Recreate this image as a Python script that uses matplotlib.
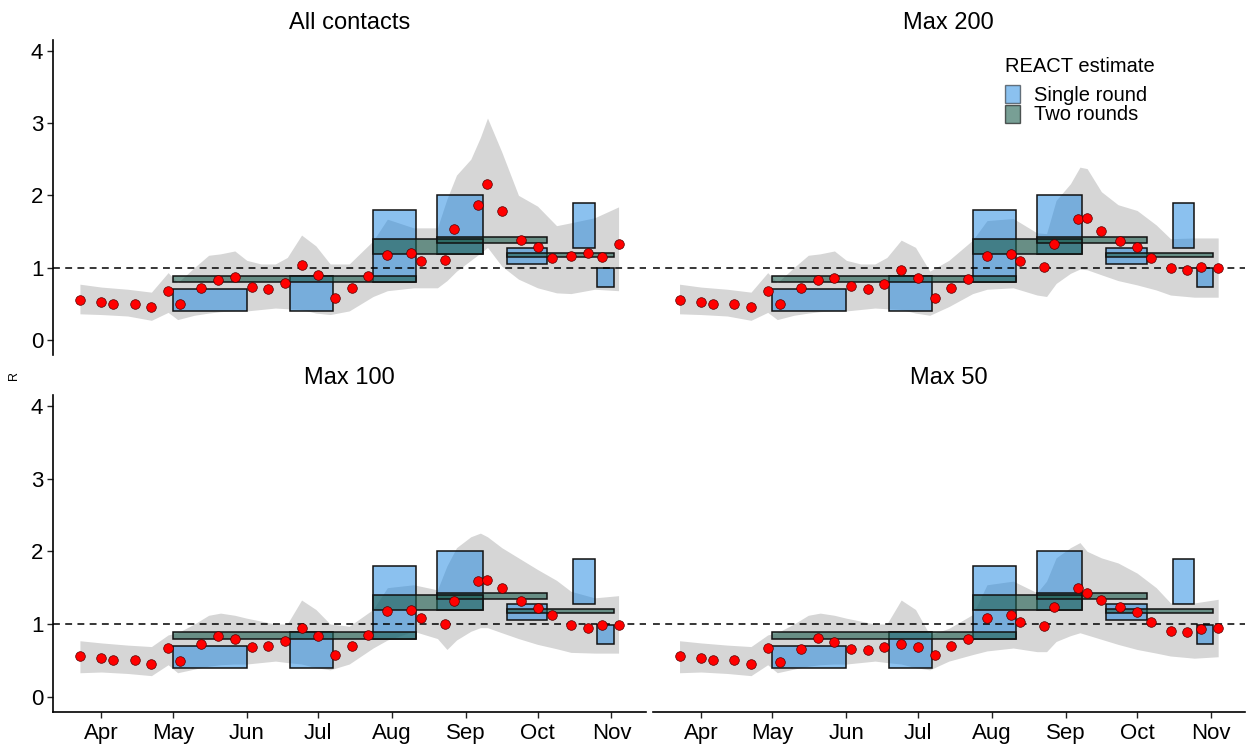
import matplotlib.pyplot as plt
import matplotlib.dates as mdates
from matplotlib.patches import Patch
import numpy as np
import pandas as pd

plt.rcParams['font.family'] = ['Liberation Sans', 'DejaVu Sans']

# weekly point estimates of R
point_dates = ['2020-03-23', '2020-04-01', '2020-04-06', '2020-04-15', '2020-04-22',
               '2020-04-29', '2020-05-04', '2020-05-13', '2020-05-20', '2020-05-27',
               '2020-06-03', '2020-06-10', '2020-06-17', '2020-06-24', '2020-07-01',
               '2020-07-08', '2020-07-15', '2020-07-22', '2020-07-30', '2020-08-09',
               '2020-08-13', '2020-08-23', '2020-08-27', '2020-09-06', '2020-09-10',
               '2020-09-16', '2020-09-24', '2020-10-01', '2020-10-07', '2020-10-15',
               '2020-10-22', '2020-10-28', '2020-11-04']
r_all = [0.55, 0.525, 0.50, 0.50, 0.455, 0.67, 0.49, 0.72, 0.835, 0.87, 0.735, 0.71, 0.78,
         1.03, 0.90, 0.58, 0.72, 0.88, 1.18, 1.20, 1.09, 1.10, 1.54, 1.86, 2.16, 1.79, 1.38,
         1.29, 1.13, 1.16, 1.20, 1.14, 1.32]
r_200 = [0.55, 0.525, 0.50, 0.50, 0.455, 0.67, 0.49, 0.72, 0.83, 0.85, 0.74, 0.71, 0.775,
         0.96, 0.85, 0.585, 0.72, 0.84, 1.16, 1.19, 1.09, 1.01, 1.32, 1.67, 1.68, 1.51, 1.37,
         1.29, 1.13, 1.00, 0.97, 1.01, 1.00]
r_100 = [0.556, 0.53, 0.505, 0.50, 0.455, 0.67, 0.49, 0.72, 0.83, 0.79, 0.68, 0.70, 0.77,
         0.945, 0.835, 0.58, 0.70, 0.845, 1.18, 1.19, 1.08, 1.00, 1.32, 1.59, 1.60, 1.49, 1.31,
         1.22, 1.12, 0.99, 0.945, 0.99, 0.99]
r_50 = [0.556, 0.53, 0.505, 0.50, 0.455, 0.67, 0.48, 0.65, 0.81, 0.75, 0.66, 0.64, 0.68,
        0.72, 0.69, 0.58, 0.70, 0.79, 1.08, 1.13, 1.03, 0.97, 1.23, 1.50, 1.43, 1.33, 1.24,
        1.17, 1.03, 0.90, 0.89, 0.93, 0.95]

# credible interval ribbon
rib_dates = ['2020-03-23', '2020-04-01', '2020-04-12', '2020-04-22', '2020-04-29',
             '2020-05-03', '2020-05-10', '2020-05-16', '2020-05-21', '2020-05-27',
             '2020-06-01', '2020-06-07', '2020-06-13', '2020-06-18', '2020-06-24',
             '2020-06-30', '2020-07-06', '2020-07-14', '2020-07-24', '2020-07-30',
             '2020-08-10', '2020-08-20', '2020-08-24', '2020-08-28', '2020-09-03',
             '2020-09-07', '2020-09-10', '2020-09-16', '2020-09-23', '2020-10-01',
             '2020-10-09', '2020-10-15', '2020-10-25', '2020-11-04']
hi_all = [0.77, 0.73, 0.70, 0.66, 0.93, 0.79, 1.00, 1.17, 1.19, 1.23, 1.10, 1.05, 1.05, 1.14,
          1.45, 1.30, 1.05, 1.05, 1.37, 1.67, 1.55, 1.55, 1.95, 2.28, 2.50, 2.80, 3.07, 2.60,
          2.00, 1.85, 1.58, 1.62, 1.69, 1.84]
lo_all = [0.36, 0.35, 0.33, 0.27, 0.38, 0.28, 0.34, 0.37, 0.39, 0.40, 0.40, 0.42, 0.44, 0.43,
          0.42, 0.37, 0.35, 0.40, 0.60, 0.68, 0.72, 0.72, 0.82, 0.95, 1.10, 1.20, 1.28, 1.02,
          0.84, 0.72, 0.65, 0.64, 0.70, 0.68]
hi_200 = [0.77, 0.73, 0.70, 0.66, 0.93, 0.79, 1.00, 1.17, 1.19, 1.23, 1.10, 1.05, 1.05, 1.14,
          1.38, 1.28, 0.95, 1.10, 1.38, 1.65, 1.68, 1.48, 1.47, 1.93, 2.16, 2.39, 2.37, 2.05,
          1.87, 1.79, 1.59, 1.40, 1.41, 1.41]
lo_200 = [0.36, 0.35, 0.33, 0.27, 0.38, 0.28, 0.34, 0.37, 0.39, 0.40, 0.40, 0.42, 0.44, 0.43,
          0.42, 0.37, 0.34, 0.46, 0.64, 0.70, 0.72, 0.62, 0.60, 0.78, 0.92, 0.98, 0.97, 0.90,
          0.82, 0.76, 0.69, 0.62, 0.59, 0.59]
hi_100 = [0.77, 0.74, 0.71, 0.69, 0.85, 0.88, 1.00, 1.12, 1.15, 1.12, 1.08, 1.04, 1.00, 1.00,
          1.33, 1.20, 1.00, 0.97, 1.20, 1.50, 1.54, 1.47, 1.80, 2.05, 2.20, 2.25, 2.20, 2.05,
          1.91, 1.75, 1.60, 1.45, 1.36, 1.39]
lo_100 = [0.33, 0.34, 0.32, 0.29, 0.44, 0.33, 0.38, 0.42, 0.44, 0.45, 0.45, 0.47, 0.49, 0.47,
          0.45, 0.40, 0.37, 0.45, 0.67, 0.78, 0.90, 0.80, 0.65, 0.78, 0.90, 0.95, 0.95, 0.88,
          0.80, 0.72, 0.66, 0.61, 0.60, 0.60]
hi_50 = [0.77, 0.74, 0.71, 0.69, 0.85, 0.88, 1.00, 1.12, 1.15, 1.12, 1.08, 1.04, 1.00, 1.00,
         1.33, 1.20, 0.85, 0.94, 1.13, 1.54, 1.59, 1.43, 1.59, 1.91, 2.05, 2.12, 2.00, 1.91,
         1.84, 1.70, 1.50, 1.29, 1.29, 1.34]
lo_50 = [0.33, 0.34, 0.32, 0.29, 0.44, 0.33, 0.38, 0.42, 0.44, 0.45, 0.45, 0.47, 0.49, 0.47,
         0.45, 0.40, 0.37, 0.49, 0.58, 0.63, 0.67, 0.62, 0.62, 0.76, 0.84, 0.88, 0.85, 0.79,
         0.72, 0.65, 0.60, 0.56, 0.53, 0.55]

# REACT estimates
single_start = ['2020-05-01', '2020-06-19', '2020-07-24', '2020-08-20', '2020-09-18',
                '2020-10-16', '2020-10-26']
single_end = ['2020-06-01', '2020-07-07', '2020-08-11', '2020-09-08', '2020-10-05',
              '2020-10-25', '2020-11-02']
single_lo = [0.40, 0.40, 0.80, 1.19, 1.05, 1.27, 0.73]
single_hi = [0.70, 0.885, 1.80, 2.00, 1.27, 1.89, 0.99]
two_start = ['2020-05-01', '2020-07-24', '2020-08-20', '2020-09-18']
two_end = ['2020-08-11', '2020-09-08', '2020-10-05', '2020-11-02']
two_lo = [0.80, 1.19, 1.34, 1.15]
two_hi = [0.89, 1.40, 1.43, 1.20]

titles = ['All contacts', 'Max 200', 'Max 100', 'Max 50']
r_sets = [r_all, r_200, r_100, r_50]
lo_sets = [lo_all, lo_200, lo_100, lo_50]
hi_sets = [hi_all, hi_200, hi_100, hi_50]

single_col = '#1985e1'
two_col = '#1f5f4f'

def dnum(d):
    return mdates.date2num(pd.to_datetime(d))

fig = plt.figure(figsize=(12.47, 7.45), dpi=100)
W, H = 1247, 745
pos = [(53, 40, 355), (652.6, 40, 355), (53, 395, 712), (652.6, 395, 712)]
apr1 = dnum('2020-04-01')

for i in range(4):
    x0, ytop, ybot = pos[i]
    ax = fig.add_axes([x0 / W, 1 - ybot / H, 592.5 / W, (ybot - ytop) / H])
    ax.fill_between(dnum(rib_dates), lo_sets[i], hi_sets[i], color='#d6d6d6', lw=0, zorder=1)
    s0, s1 = dnum(single_start), dnum(single_end)
    ax.bar(s0, np.array(single_hi) - np.array(single_lo), width=s1 - s0, bottom=single_lo,
           align='edge', color=single_col, alpha=0.5, edgecolor='none', zorder=2)
    ax.bar(s0, np.array(single_hi) - np.array(single_lo), width=s1 - s0, bottom=single_lo,
           align='edge', fill=False, edgecolor='#111111', lw=1.1, zorder=2.1)
    t0, t1 = dnum(two_start), dnum(two_end)
    ax.bar(t0, np.array(two_hi) - np.array(two_lo), width=t1 - t0, bottom=two_lo,
           align='edge', color=two_col, alpha=0.6, edgecolor='none', zorder=3)
    ax.bar(t0, np.array(two_hi) - np.array(two_lo), width=t1 - t0, bottom=two_lo,
           align='edge', fill=False, edgecolor='#111111', lw=1.1, zorder=3.1)
    ax.axhline(1, color='black', lw=1.1, ls=(0, (4.5, 3.5)), zorder=4)
    ax.scatter(dnum(point_dates), r_sets[i], s=48, c='#ff0000', edgecolors='#550000',
               linewidths=0.5, zorder=5)
    ax.set_xlim(apr1 - 20.3, apr1 + 228.3)
    ax.set_ylim(-0.21, 4.15)
    ax.set_facecolor('none')
    for sp in ['top', 'right']:
        ax.spines[sp].set_visible(False)
    ax.xaxis.set_major_locator(mdates.MonthLocator())
    ax.xaxis.set_major_formatter(mdates.DateFormatter('%b'))
    ax.set_yticks([0, 1, 2, 3, 4])
    ax.tick_params(labelsize=16, length=4, width=1, colors='#222222', labelcolor='black')
    ax.tick_params(axis='x', pad=4)
    ax.tick_params(axis='y', pad=3)
    if i < 2:
        ax.spines['bottom'].set_visible(False)
        ax.tick_params(axis='x', bottom=False, labelbottom=False)
    else:
        ax.spines['bottom'].set_linewidth(1.2)
    if i % 2 == 1:
        ax.spines['left'].set_visible(False)
        ax.tick_params(axis='y', left=False, labelleft=False)
    else:
        ax.spines['left'].set_linewidth(1.2)
    ax.set_title(titles[i], fontsize=17, pad=8)

    if i == 1:
        handles = [Patch(facecolor=single_col, alpha=0.5, edgecolor='black', lw=1.0),
                   Patch(facecolor=two_col, alpha=0.6, edgecolor='black', lw=1.0)]
        leg = ax.legend(handles, ['Single round', 'Two rounds'], title='REACT estimate',
                        loc='upper left', bbox_to_anchor=(0.595, 0.945), frameon=False,
                        fontsize=14.5, title_fontsize=14.5, handlelength=0.75,
                        handleheight=1.0, handletextpad=0.7, labelspacing=0.0,
                        borderpad=0.0, borderaxespad=0.0)
        leg._legend_box.align = 'left'
        leg._legend_box.sep = 6

fig.text(14 / W, 1 - 375 / H, 'R', rotation=90, fontsize=9, ha='center', va='center')

plt.savefig('out.png', dpi=100)
